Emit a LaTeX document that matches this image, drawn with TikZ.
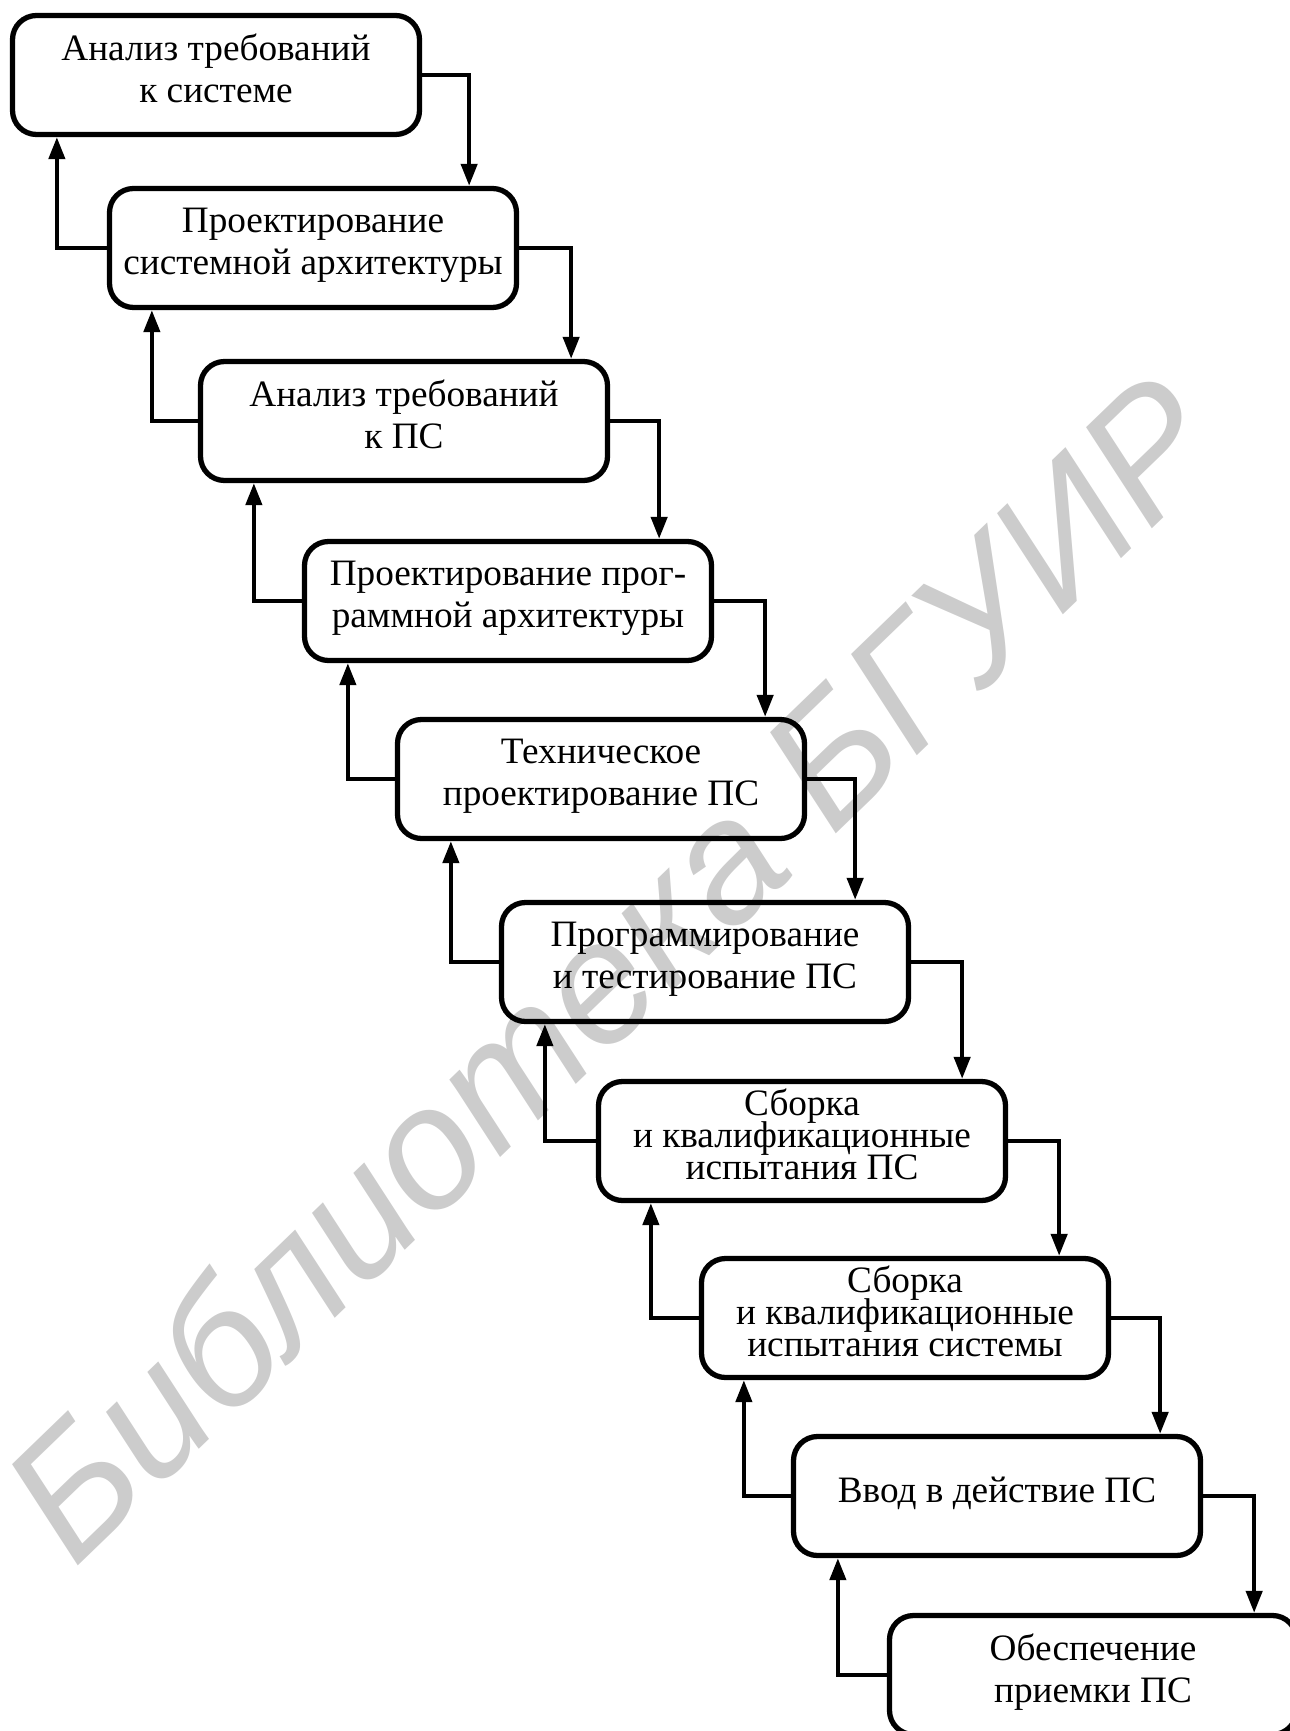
\documentclass[tikz,border=0pt]{standalone}
\usepackage{fontspec}
\setmainfont{Liberation Serif}
\newfontfamily\wmfont{Liberation Sans}
\usetikzlibrary{arrows.meta}
\newcommand\tightfont{\fontsize{10.6}{9.1}\selectfont\lineskiplimit=-10pt\relax}
\tikzset{>={Triangle[length=2.2mm,width=1.6mm]}}
\tikzset{stage/.style={draw, line width=1.5pt, rounded corners=2.4mm,
    minimum width=40.7mm, minimum height=11.9mm, inner sep=0pt, align=center,
    text depth=1.3mm, font=\fontsize{10.6}{12}\selectfont},
  tight/.style={font=\tightfont},
  link/.style={->, line width=1.2pt}}

\begin{document}
\begin{tikzpicture}[x=0.1mm, y=-0.1mm]
    \clip (0,0) rectangle (1290,1731);
    % watermark
    \node[rotate=44, anchor=base west, text=black!20, inner sep=0pt,
      font=\wmfont\itshape\fontsize{49}{49}\selectfont] (wm) at (74,1570) {Библиотека БГУИР};
    % stages
    \node[stage] (s1) at (216,75) {Анализ требований\\к системе};
    \node[stage] (s2) at (313,248) {Проектирование\\системной архитектуры};
    \node[stage] (s3) at (404,421) {Анализ требований\\к ПС};
    \node[stage] (s4) at (508,601) {Проектирование прог-\\раммной архитектуры};
    \node[stage] (s5) at (601,779) {Техническое\\проектирование ПС};
    \node[stage] (s6) at (705,962) {Программирование\\и тестирование ПС};
    \node[stage, tight] (s7) at (802,1141) {Сборка\\и квалификационные\\испытания ПС};
    \node[stage, tight] (s8) at (905,1318) {Сборка\\и квалификационные\\испытания системы};
    \node[stage] (s9) at (997,1496) {Ввод в действие ПС};
    \node[stage] (s10) at (1093,1675) {Обеспечение\\приемки ПС};
    % forward and back links
    \foreach \a/\b/\r/\l in {s1/s2/5.0/4.7, s2/s3/3.9/4.5, s3/s4/5.5/5.6, s4/s5/4.2/4.6,
        s5/s6/5.6/5.6, s6/s7/4.6/4.6, s7/s8/5.2/5.5, s8/s9/4.3/4.5, s9/s10/4.5/4.7} {
      \draw[link] (\a.east) -| ([xshift=-\r mm]\b.north east);
      \draw[link] (\b.west) -| ([xshift=\l mm]\a.south west);
    }
\end{tikzpicture}
\end{document}
